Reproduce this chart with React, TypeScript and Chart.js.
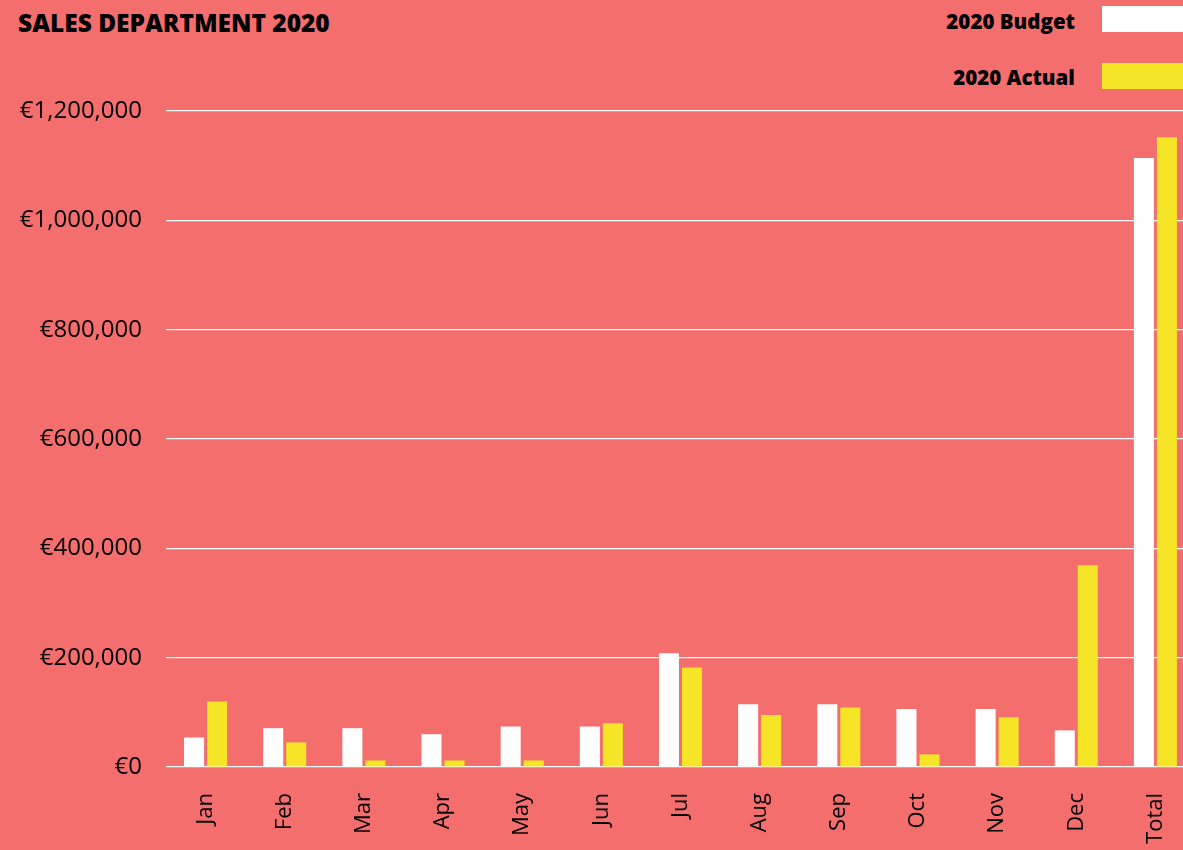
import React, { useEffect, useRef } from "react";
import { Chart, registerables } from "chart.js";

Chart.register(...registerables);

const categories = ["Jan", "Feb", "Mar", "Apr", "May", "Jun", "Jul", "Aug", "Sep", "Oct", "Nov", "Dec", "Total"];
const budget2020 = [54000, 71000, 71000, 60000, 74000, 74000, 208000, 115000, 115000, 106000, 106000, 67000, 1114000];
const actual2020 = [120000, 45000, 12000, 12000, 12000, 80000, 182000, 95000, 109000, 23000, 91000, 369000, 1152000];
const yTicks = [0, 200000, 400000, 600000, 800000, 1000000, 1200000];

const BG = "#F46E6E";
const YELLOW = "#F5E526";
const FONT = "'Open Sans', 'Noto Sans', sans-serif";

export default function App() {
  const ref = useRef<HTMLCanvasElement>(null);

  useEffect(() => {
    document.body.style.margin = "0";
    const ctx = ref.current!;
    const chart = new Chart(ctx, {
      type: "bar",
      data: {
        labels: categories,
        datasets: [
          {
            label: "2020 Budget",
            data: budget2020,
            backgroundColor: "#FFFFFF",
            borderWidth: 0,
            categoryPercentage: 0.582,
            barPercentage: 0.87,
          },
          {
            label: "2020 Actual",
            data: actual2020,
            backgroundColor: YELLOW,
            borderWidth: 0,
            categoryPercentage: 0.582,
            barPercentage: 0.87,
          },
        ],
      },
      options: {
        responsive: false,
        animation: false,
        devicePixelRatio: 1,
        layout: { padding: { top: 111, right: 0, left: 0, bottom: 0 } },
        plugins: {
          legend: { display: false },
          title: { display: false },
          tooltip: { enabled: false },
        },
        scales: {
          x: {
            grid: { display: false, drawTicks: false },
            border: { display: false },
            ticks: {
              color: "#000",
              font: { family: FONT, size: 22 },
              minRotation: 90,
              maxRotation: 90,
              padding: 26,
            },
            afterFit: (scale: any) => {
              scale.height = 83;
              scale.paddingLeft = 0;
              scale.paddingRight = 0;
            },
          },
          y: {
            min: 0,
            max: 1200000,
            afterBuildTicks: (scale: any) => {
              scale.ticks = yTicks.map((v) => ({ value: v }));
            },
            grid: { color: "#FFFFFF", lineWidth: 1.2, drawTicks: false },
            border: { display: false },
            ticks: {
              color: "#000",
              font: { family: FONT, size: 24 },
              padding: 24,
              callback: (v: any) => "€" + Number(v).toLocaleString("en-US"),
            },
            afterFit: (scale: any) => {
              scale.width = 166;
            },
          },
        },
      },
    });
    return () => chart.destroy();
  }, []);

  const legendText: React.CSSProperties = {
    position: "absolute",
    right: 108,
    fontSize: 20.5,
    fontWeight: 800,
    color: "#000",
    lineHeight: "30px",
    whiteSpace: "nowrap",
  };

  return (
    <div
      style={{
        position: "fixed",
        left: 0,
        top: 0,
        width: 1183,
        height: 850,
        overflow: "hidden",
        background: BG,
        fontFamily: FONT,
      }}
    >
      <div
        style={{
          position: "absolute",
          left: 18,
          top: 7,
          fontSize: 24.5,
          fontWeight: 800,
          color: "#000",
          lineHeight: "32px",
          whiteSpace: "nowrap",
        }}
      >
        SALES DEPARTMENT 2020
      </div>
      <div style={{ ...legendText, top: 6 }}>2020 Budget</div>
      <div style={{ position: "absolute", left: 1102, top: 6, width: 100, height: 26, background: "#FFFFFF" }} />
      <div style={{ ...legendText, top: 62 }}>2020 Actual</div>
      <div style={{ position: "absolute", left: 1102, top: 63, width: 100, height: 26, background: YELLOW }} />
      <div style={{ position: "absolute", left: 0, top: 0, width: 1195, height: 850 }}>
        <canvas ref={ref} width={1195} height={850} style={{ display: "block", width: 1195, height: 850 }} />
      </div>
    </div>
  );
}
